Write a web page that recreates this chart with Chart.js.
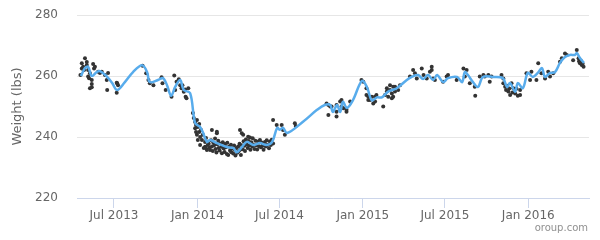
<!DOCTYPE html>
<html>
<head>
<meta charset="utf-8">
<script src="https://cdn.jsdelivr.net/npm/chart.js@4/dist/chart.umd.min.js"></script>
<style>
  html, body { margin: 0; padding: 0; background: #fff; }
  #wrap { position: relative; width: 600px; height: 240px; }
  #credits {
    position: absolute; right: 12px; top: 222px;
    font: 10px "DejaVu Sans", sans-serif; color: #909090;
  }
</style>
</head>
<body>
<div id="wrap">
  <canvas id="weight-chart" width="600" height="240"></canvas>
  <div id="credits">oroup.com</div>
</div>
<script>
// x values are days since 2013-01-01
const tickDays = [181, 365, 546, 730, 911, 1095];
const tickLabels = ['Jul 2013', 'Jan 2014', 'Jul 2014', 'Jan 2015', 'Jul 2015', 'Jan 2016'];
const dayRange = [99.4, 1229];
const weightTicks = [220, 240, 260, 280];

// smoothed trend line
const trendDays = [108, 117, 124, 132, 143, 150, 166, 177, 188, 205, 223, 243, 254, 260, 278, 289,
  298, 307, 316, 327, 335, 349, 360, 371, 377, 386, 393, 408, 430, 444, 452, 463, 474, 488, 503,
  518, 530, 541, 547, 554, 563, 598, 629, 646, 658, 664, 673, 680, 686, 695, 708, 728, 739, 750,
  761, 772, 785, 805, 827, 838, 852, 863, 874, 885, 894, 907, 918, 938, 949, 955, 962, 973, 984,
  995, 1017, 1039, 1048, 1055, 1066, 1072, 1083, 1094, 1105, 1116, 1125, 1132, 1143, 1154, 1165,
  1176, 1187, 1198, 1202, 1209, 1218];
const trendWeights = [260, 262.6, 263, 260, 261.3, 261.6, 259.7, 257.7, 255.4, 258, 261.3, 263.5,
  261.3, 258, 258.7, 259.3, 257, 253.5, 256.4, 258.7, 255.4, 254.4, 244.6, 243.3, 241.6, 238.4,
  239, 238, 236.7, 236.4, 235, 236.7, 238.4, 237.4, 238, 237.4, 238.4, 243, 242.4, 243, 241.3,
  245, 248.9, 250.5, 250.5, 248.2, 250.5, 248.2, 251.5, 249.5, 252, 258.4, 256.4, 252, 253, 253,
  254.8, 256, 258.7, 259.7, 260.3, 259, 260.3, 258.7, 260.3, 258, 259.3, 259.7, 258, 261.3, 260.3,
  258, 256.4, 259.7, 259.7, 259.3, 256.4, 257.7, 254.8, 257.7, 256, 261, 259.7, 261, 262.6, 259.7,
  261, 261.3, 264.3, 266.2, 266.9, 266.9, 267.5, 265.9, 264.3];

// individual weigh-ins [day, lbs]
const weighIns = [
  [107, 260.3], [110, 264.2], [110, 262.5], [112, 262.5], [113, 263], [115, 262], [117, 265.8],
  [121, 263.6], [121, 264.6], [124, 262], [124, 259.8], [126, 259.3], [128, 260.9], [128, 256],
  [132, 258.7], [132, 256.3], [132, 257.4], [135, 263.9], [137, 262.5], [139, 263], [146, 261.4],
  [150, 261], [154, 261.4], [161, 260.3], [165, 258.7], [166, 255.4], [168, 261], [187, 257.8],
  [188, 257.6], [187, 254.5], [190, 257], [244, 263.4], [252, 260.9], [257, 258.7], [260, 257.6],
  [268, 257], [286, 259.6], [288, 257.6], [295, 255.4], [308, 253.2], [314, 260.2], [316, 255.4],
  [319, 258.1], [324, 258.9], [327, 257], [330, 256], [332, 257], [335, 254.8], [338, 255.6],
  [339, 253.2], [341, 252.7], [345, 256],
  [355, 247.9], [357, 246.2], [360, 244.9], [360, 242.9], [362, 243.9], [362, 241.6], [364, 245.6],
  [364, 240.7], [366, 243.3], [366, 239], [369, 244.3], [369, 241.6], [371, 240], [371, 237.4],
  [373, 242.3], [375, 239], [377, 240.7], [379, 236.4], [382, 238.4], [382, 236.8], [384, 239.7],
  [384, 236.3], [386, 235.7], [388, 237.4], [393, 235.7], [397, 242.3], [408, 241.7], [408, 241.2],
  [390, 237.8], [392, 236.5], [395, 238.9], [397, 236.9], [399, 235.4], [400, 238.2], [402, 237.3],
  [404, 239.5], [405, 236.1], [407, 234.9], [409, 237.6], [411, 238.8], [412, 236.4], [414, 235.6],
  [416, 237.9], [418, 236.8], [419, 234.7], [421, 238.3], [423, 236.2], [425, 235.1], [426, 237.7],
  [428, 236.6], [430, 234.4], [431, 238.1], [433, 234.1], [435, 236.9], [437, 235.6], [439, 237.5],
  [440, 235], [442, 236.3], [444, 234.6], [446, 237.2], [447, 235.8], [449, 233.9], [451, 236.4],
  [453, 234.8], [455, 236.9], [456, 235.3], [458, 237.8], [460, 235.9], [461, 234.1], [463, 237.3],
  [465, 236], [467, 238.6], [469, 237.1], [470, 235.4], [472, 239.2], [474, 237.6], [476, 236.4],
  [478, 238.7], [480, 237.2], [482, 235.8], [484, 238.3], [486, 236.9], [487, 239.6], [489, 237.4],
  [491, 236.1], [493, 238.8], [495, 237.3], [497, 235.9], [499, 238.5], [501, 237], [503, 239],
  [505, 236.6], [507, 238.2], [509, 237.1], [511, 235.8], [514, 238.4], [516, 236.9], [518, 238.9],
  [520, 237.5], [523, 236.3], [525, 238.5], [527, 237.4], [529, 239.1], [532, 237.9],
  [459, 242.3], [463, 241.2], [466, 240.7], [477, 240.1], [481, 239.8],
  [532, 245.6], [540, 243.9], [551, 243.9], [554, 242.3], [558, 240.7], [580, 244.5], [582, 243.6],
  [650, 251], [654, 250.5], [654, 247.2], [658, 250], [661, 250], [672, 246.7], [672, 248.3],
  [672, 250.5], [680, 251.6], [683, 250], [683, 252.1], [687, 249.4], [694, 248.9], [694, 248.3],
  [702, 251.6], [727, 258.7], [731, 258.1], [738, 253.8], [738, 256], [742, 252.1], [742, 253.2],
  [746, 252.1], [750, 253.2], [753, 251], [757, 251.6], [757, 253.2], [760, 253.8], [775, 250],
  [779, 253.8], [783, 254.9], [783, 256], [786, 253.2], [790, 255.4], [790, 257], [794, 252.7],
  [794, 254.3], [797, 256.5], [797, 253.2], [801, 254.9], [801, 256.5], [808, 255.4], [812, 257],
  [834, 259.8], [841, 262], [845, 260.9], [849, 259.2], [860, 262.5], [864, 260.3], [871, 259.2],
  [878, 261.4], [882, 263], [882, 262], [885, 259.2], [889, 258.7], [907, 258.1], [915, 259.8],
  [918, 260.3], [937, 258.7], [952, 262.5], [955, 259.8], [959, 262], [966, 257.6], [977, 256.5],
  [978, 253.5], [988, 259.8], [996, 260.3], [999, 259.8], [1007, 260.3], [1010, 258.1], [1014, 259.8],
  [1036, 260.3], [1040, 259.2], [1040, 257.6], [1044, 256.5], [1046, 255.4], [1048, 256.8],
  [1051, 254.9], [1053, 255.9], [1055, 253.8], [1058, 257.6], [1060, 254.6], [1062, 256],
  [1066, 254.3], [1069, 255.8], [1072, 253.5], [1077, 255.4], [1077, 253.8], [1091, 260.9],
  [1099, 258.7], [1102, 261.4], [1113, 258.7], [1117, 264.2], [1124, 260.9], [1132, 259.2],
  [1139, 261.4], [1143, 259.8], [1150, 260.9], [1165, 264.7], [1169, 265.8], [1176, 267.4],
  [1180, 266.9], [1194, 265.2], [1202, 268.5], [1206, 265.8], [1207, 264.8], [1209, 264.2],
  [1211, 265], [1213, 263.6], [1215, 264], [1217, 263]
];

const font = '"DejaVu Sans", sans-serif';

new Chart(document.getElementById('weight-chart'), {
  type: 'scatter',
  data: {
    datasets: [
      {
        label: 'Trend',
        data: trendDays.map((d, i) => ({ x: d, y: trendWeights[i] })),
        showLine: true,
        borderColor: '#58acec',
        borderWidth: 2.5,
        pointRadius: 0,
        tension: 0.35,
        order: 0,
      },
      {
        label: 'Weight',
        data: weighIns.map(([d, w]) => ({ x: d, y: w })),
        backgroundColor: '#333333',
        borderWidth: 0,
        pointRadius: 2,
        order: 1,
      },
    ],
  },
  options: {
    responsive: false,
    animation: false,
    events: [],
    layout: { padding: { top: 15, right: 11, bottom: 0, left: 0 } },
    plugins: { legend: { display: false }, tooltip: { enabled: false } },
    scales: {
      x: {
        type: 'linear',
        min: dayRange[0],
        max: dayRange[1],
        afterBuildTicks: (scale) => { scale.ticks = tickDays.map((v) => ({ value: v })); },
        afterFit: (scale) => { scale.height = 42; },
        border: { display: true, color: '#ccd6eb', width: 1 },
        grid: { drawOnChartArea: false, drawTicks: true, tickLength: 10, color: '#ccd6eb' },
        ticks: {
          padding: 1,
          maxRotation: 0,
          autoSkip: false,
          color: '#666666',
          font: { family: font, size: 12 },
          callback: (v) => tickLabels[tickDays.indexOf(v)] || '',
        },
      },
      y: {
        min: 220,
        max: 280,
        afterBuildTicks: (scale) => { scale.ticks = weightTicks.map((v) => ({ value: v })); },
        afterFit: (scale) => { scale.width = 77; },
        border: { display: false },
        // invisible tick marks push the labels left without adding vertical padding
        grid: { color: '#e6e6e6', drawTicks: true, tickLength: 19, tickColor: 'rgba(0,0,0,0)' },
        ticks: { padding: 0, color: '#666666', font: { family: font, size: 12 } },
        title: {
          display: true,
          text: 'Weight (lbs)',
          color: '#666666',
          font: { family: font, size: 13 },
          padding: { top: 10, bottom: 0 },
        },
      },
    },
  },
});
</script>
</body>
</html>
